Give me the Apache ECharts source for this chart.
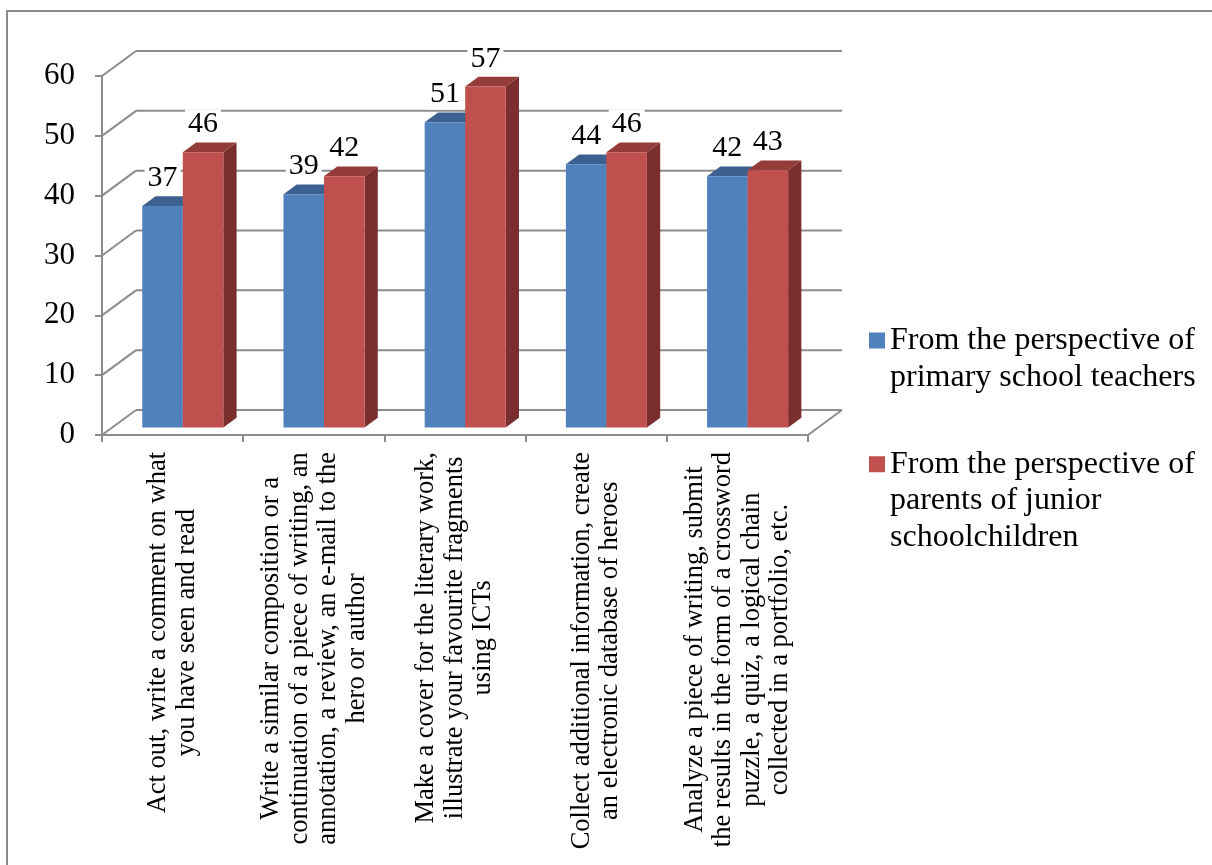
<!DOCTYPE html>
<html>
<head>
<meta charset="utf-8">
<title>Forms of work</title>
<script src="https://cdn.jsdelivr.net/npm/echarts@6/dist/echarts.min.js"></script>
<style>
  html, body { margin: 0; padding: 0; background: #fff; }
  #chart { width: 1212px; height: 865px; }
</style>
</head>
<body>
<div id="chart"></div>
<script>
// categories (x axis), line breaks as in the original
const categories = [
  'Act out, write a comment on what\nyou have seen and read',
  'Write a similar composition or a\ncontinuation of a piece of writing, an\nannotation, a review, an e-mail to the\nhero or author',
  'Make a cover for the literary work,\nillustrate your favourite fragments\nusing ICTs',
  'Collect additional information, create\nan electronic database of heroes',
  'Analyze a piece of writing, submit\nthe results in the form of a crossword\npuzzle, a quiz, a logical chain\ncollected in a portfolio, etc.'
];

const seriesNames = [
  'From the perspective of primary school teachers',
  'From the perspective of parents of junior schoolchildren'
];
const legendLines = [
  ['From the perspective of', 'primary school teachers'],
  ['From the perspective of', 'parents of junior', 'schoolchildren']
];

const teachers = [37, 39, 51, 44, 42];
const parents = [46, 42, 57, 46, 43];

const yTicks = [0, 10, 20, 30, 40, 50, 60];

// look
const FONT = 'Liberation Serif';
const GRID_COLOR = '#8c8c8c';
const DEPTH_X = 34;    // back wall offset from the front plane
const DEPTH_Y = -25;
const BAR_Z0 = 0.3;    // depth of the bar front face (0..1)
const BAR_DEPTH = 0.39;
const BAR_SHARE = 0.287; // one bar width as part of a category band

const faceColors = [
  { front: '#4f81bd', top: '#3c6190', side: '#335378' },
  { front: '#c0504d', top: '#933c3a', side: '#7a2f2e' }
];

const chart = echarts.init(document.getElementById('chart'));

// 3D column drawn from the axis scales
function barRenderer(idx) {
  const c = faceColors[idx];
  return function (params, api) {
    const cat = api.value(0);
    const val = api.value(1);
    const base = api.coord([cat, 0]);
    const top = api.coord([cat, val]);
    const w = api.size([1, 0])[0] * BAR_SHARE;
    const ox = DEPTH_X * BAR_Z0, oy = DEPTH_Y * BAR_Z0;
    const dx = DEPTH_X * BAR_DEPTH, dy = DEPTH_Y * BAR_DEPTH;
    const x0 = base[0] - w + idx * w + ox;
    const x1 = x0 + w;
    const yb = base[1] + oy;
    const yt = top[1] + oy;
    return {
      type: 'group',
      children: [
        {
          type: 'polygon',
          shape: { points: [[x1, yt], [x1 + dx, yt + dy], [x1 + dx, yb + dy], [x1, yb]] },
          style: { fill: c.side }
        },
        {
          type: 'polygon',
          shape: { points: [[x0, yt], [x0 + dx, yt + dy], [x1 + dx, yt + dy], [x1, yt]] },
          style: { fill: c.top }
        },
        {
          type: 'rect',
          shape: { x: x0, y: yt, width: w, height: yb - yt },
          style: { fill: c.front }
        },
        {
          type: 'text',
          z2: 100,
          x: (x0 + x1) / 2,
          y: yt + dy - 3,
          style: {
            text: String(val),
            font: '30px "' + FONT + '"',
            fill: '#000',
            align: 'center',
            verticalAlign: 'bottom',
            backgroundColor: '#fff',
            padding: [0, 3]
          }
        }
      ]
    };
  };
}

// back wall gridlines + diagonals to the front axis
function frameRenderer(params, api) {
  const cs = params.coordSys;
  const v = api.value(1);
  const y = api.coord([0, v])[1];
  const left = cs.x, right = cs.x + cs.width;
  const line = (x1, y1, x2, y2) => ({
    type: 'line',
    shape: { x1, y1, x2, y2 },
    style: { stroke: GRID_COLOR, lineWidth: 2 }
  });
  const kids = [
    line(left, y, left + DEPTH_X, y + DEPTH_Y),
    line(left + DEPTH_X, y + DEPTH_Y, right + DEPTH_X, y + DEPTH_Y)
  ];
  if (v === 0) kids.push(line(right, y, right + DEPTH_X, y + DEPTH_Y));
  return { type: 'group', children: kids };
}

// icon sits beside the first line: pad the block with empty lines above
function legendText(lines) {
  return new Array(lines.length - 1).fill('').concat(lines).join('\n');
}

const legendBase = {
  orient: 'vertical',
  left: 869,
  padding: 0,
  itemWidth: 16,
  itemHeight: 16,
  icon: 'rect',
  selectedMode: false
};

const option = {
  animation: false,
  backgroundColor: '#fff',
  graphic: [{
    type: 'rect',
    shape: { x: 7, y: 11, width: 1300, height: 900 },
    style: { fill: 'none', stroke: '#8a8a8a', lineWidth: 2 },
    silent: true
  }],
  grid: { left: 102, top: 76, width: 706, height: 359 },
  legend: [
    Object.assign({}, legendBase, {
      top: 285,
      data: [seriesNames[0]],
      formatter: () => legendText(legendLines[0]),
      textStyle: { fontFamily: FONT, fontSize: 32, color: '#000', lineHeight: 37 }
    }),
    Object.assign({}, legendBase, {
      top: 373,
      data: [seriesNames[1]],
      formatter: () => legendText(legendLines[1]),
      textStyle: { fontFamily: FONT, fontSize: 32, color: '#000', lineHeight: 36.5 }
    })
  ],
  xAxis: {
    type: 'category',
    data: categories,
    boundaryGap: true,
    axisLine: { lineStyle: { color: GRID_COLOR, width: 2 } },
    axisTick: { show: true, length: 7, lineStyle: { color: GRID_COLOR, width: 2 } },
    axisLabel: {
      interval: 0,
      rotate: 90,
      margin: 17,
      formatter: s => s.split('\n').map(t => '{c|' + t + '}').join('\n'),
      rich: {
        c: { align: 'center', fontFamily: FONT, fontSize: 26.5, lineHeight: 28.5, color: '#000' }
      }
    }
  },
  yAxis: {
    type: 'value',
    min: 0,
    max: 60,
    interval: 10,
    axisLine: { show: true, lineStyle: { color: GRID_COLOR, width: 2 } },
    axisTick: { show: true, length: 7, lineStyle: { color: GRID_COLOR, width: 2 } },
    splitLine: { show: false },
    axisLabel: { margin: 27, fontFamily: FONT, fontSize: 31, color: '#000' }
  },
  series: [
    {
      type: 'custom',
      name: 'frame',
      z: 1,
      silent: true,
      clip: false,
      renderItem: frameRenderer,
      data: yTicks.map(v => [0, v])
    },
    {
      type: 'custom',
      name: seriesNames[0],
      z: 2,
      clip: false,
      itemStyle: { color: faceColors[0].front },
      renderItem: barRenderer(0),
      data: teachers.map((v, i) => [i, v])
    },
    {
      type: 'custom',
      name: seriesNames[1],
      z: 2,
      clip: false,
      itemStyle: { color: faceColors[1].front },
      renderItem: barRenderer(1),
      data: parents.map((v, i) => [i, v])
    }
  ]
};

chart.setOption(option);
</script>
</body>
</html>
